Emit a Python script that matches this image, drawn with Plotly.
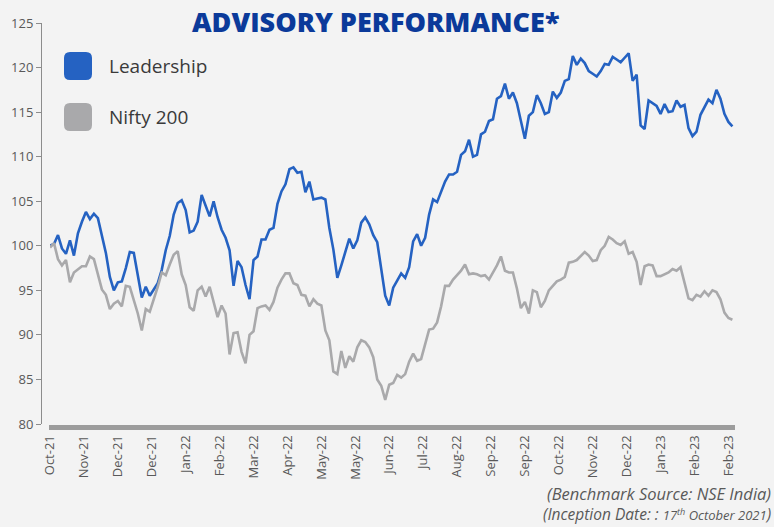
import plotly.graph_objects as go

# ---------------- data ----------------
series_names = ["Leadership", "Nifty 200"]

# trading-day index of each sample (every 2nd trading day since inception)
trading_day = list(range(0, 344, 2))

leadership = [
    100.0, 100.2, 101.2, 99.7, 99.1, 100.6, 98.9, 101.4, 102.7, 103.8,
    103.0, 103.6, 103.1, 101.3, 99.2, 96.5, 95.0, 95.9, 96.0, 97.5,
    99.3, 99.2, 96.5, 94.2, 95.4, 94.4, 95.1, 95.8, 97.3, 99.5,
    101.1, 103.5, 104.8, 105.1, 104.0, 101.5, 101.7, 102.7, 105.7, 104.6,
    103.3, 105.0, 103.2, 101.8, 100.9, 99.5, 95.5, 98.3, 97.6, 95.6,
    94.0, 98.4, 98.8, 100.7, 100.7, 101.8, 102.0, 104.7, 106.1, 106.9,
    108.6, 108.8, 108.2, 108.3, 106.0, 107.2, 105.2, 105.3, 105.4, 105.2,
    102.0, 99.6, 96.4, 97.8, 99.3, 100.8, 99.7, 100.6, 102.6, 103.2,
    102.4, 101.2, 100.4, 97.5, 94.4, 93.3, 95.3, 96.1, 96.9, 96.4,
    97.6, 100.5, 101.3, 100.0, 100.9, 103.5, 105.2, 104.9, 106.1, 107.2,
    108.0, 108.0, 108.3, 110.2, 110.6, 111.9, 110.0, 110.2, 112.5, 112.8,
    114.0, 114.2, 116.5, 116.8, 118.2, 116.5, 117.2, 116.0, 114.0, 112.0,
    114.6, 115.0, 116.9, 116.0, 114.8, 115.0, 117.3, 116.6, 117.2, 118.5,
    118.7, 121.3, 120.3, 121.0, 120.5, 119.6, 119.3, 119.0, 119.6, 120.4,
    120.3, 121.2, 120.9, 120.6, 121.1, 121.6, 118.5, 119.2, 113.5, 113.1,
    116.3, 116.0, 115.7, 114.8, 115.9, 115.0, 115.1, 116.3, 115.6, 115.8,
    113.2, 112.3, 112.8, 114.7, 115.6, 116.4, 116.0, 117.5, 116.5, 114.8,
    113.9, 113.4,
]

nifty200 = [
    99.8, 100.3, 98.5, 97.8, 98.4, 95.9, 97.0, 97.3, 97.7, 97.7,
    98.8, 98.5, 96.9, 95.1, 94.5, 92.9, 93.5, 93.8, 93.2, 95.5,
    95.4, 94.0, 92.4, 90.5, 92.9, 92.6, 93.9, 95.4, 97.0, 96.7,
    97.9, 99.0, 99.4, 96.8, 95.6, 93.1, 92.7, 95.0, 95.4, 94.3,
    95.4, 93.7, 92.0, 93.3, 92.4, 87.8, 90.2, 90.3, 88.1, 86.8,
    90.0, 90.4, 93.0, 93.2, 93.3, 92.8, 93.7, 95.3, 96.2, 96.9,
    96.9, 95.8, 95.6, 94.5, 94.4, 93.2, 94.0, 93.5, 93.3, 90.5,
    89.4, 85.9, 85.6, 88.2, 86.3, 87.6, 87.0, 88.6, 89.4, 89.2,
    88.6, 87.5, 85.0, 84.3, 82.7, 84.4, 84.6, 85.5, 85.2, 85.6,
    87.0, 87.9, 87.1, 87.3, 88.9, 90.6, 90.7, 91.4, 93.2, 95.5,
    95.5, 96.2, 96.7, 97.2, 97.9, 96.8, 96.9, 96.8, 96.6, 96.7,
    96.2, 97.0, 97.8, 98.8, 97.2, 97.0, 97.0, 95.2, 93.0, 93.7,
    92.4, 95.0, 94.8, 93.1, 93.8, 95.0, 95.5, 96.0, 96.2, 96.5,
    98.1, 98.2, 98.4, 98.8, 99.3, 98.9, 98.3, 98.4, 99.5, 100.0,
    101.0, 100.7, 100.3, 100.1, 100.5, 99.1, 99.3, 98.2, 95.6, 97.7,
    97.9, 97.8, 96.6, 96.6, 96.8, 97.0, 97.4, 97.2, 97.6, 95.9,
    94.1, 93.9, 94.5, 94.3, 94.9, 94.4, 95.0, 94.8, 94.0, 92.5,
    91.9, 91.7,
]

tick_days = [0, 17, 34, 51, 68, 85, 102, 119, 136, 153, 170, 187, 204, 221,
             238, 255, 272, 289, 306, 323, 340]
tick_labels = ["Oct-21", "Nov-21", "Dec-21", "Dec-21", "Jan-22", "Feb-22",
               "Mar-22", "Apr-22", "May-22", "May-22", "Jun-22", "Jul-22",
               "Aug-22", "Sep-22", "Sep-22", "Oct-22", "Nov-22", "Dec-22",
               "Jan-23", "Feb-23", "Feb-23"]
y_ticks = [80, 85, 90, 95, 100, 105, 110, 115, 120, 125]

# ---------------- styling ----------------
BG = "#f3f3f3"
BLUE = "#2562c2"
GREY = "#a9a9ab"
AXIS = "#8c8c8c"
TXT = "#595959"

W, H = 774, 527
ML, MR, MT, MB = 41, 38, 23, 103
PW = W - ML - MR
PH = H - MT - MB
PB = H - MB


def X(p):
    return (p - ML) / PW


def Y(p):
    return (PB - p) / PH


def rounded_box(px0, py0, px1, py1, rad):
    return (f"M {X(px0 + rad)},{Y(py0)} L {X(px1 - rad)},{Y(py0)} "
            f"Q {X(px1)},{Y(py0)} {X(px1)},{Y(py0 + rad)} "
            f"L {X(px1)},{Y(py1 - rad)} Q {X(px1)},{Y(py1)} {X(px1 - rad)},{Y(py1)} "
            f"L {X(px0 + rad)},{Y(py1)} Q {X(px0)},{Y(py1)} {X(px0)},{Y(py1 - rad)} "
            f"L {X(px0)},{Y(py0 + rad)} Q {X(px0)},{Y(py0)} {X(px0 + rad)},{Y(py0)} Z")


fig = go.Figure()
fig.add_trace(go.Scatter(x=trading_day, y=leadership, mode="lines",
                         name=series_names[0],
                         line=dict(color=BLUE, width=2.6), showlegend=False))
fig.add_trace(go.Scatter(x=trading_day, y=nifty200, mode="lines",
                         name=series_names[1],
                         line=dict(color=GREY, width=2.6), showlegend=False))

shapes = [
    dict(type="path", xref="paper", yref="paper",
         path=rounded_box(64, 52, 92, 80, 6), fillcolor=BLUE, line=dict(width=0)),
    dict(type="path", xref="paper", yref="paper",
         path=rounded_box(64, 103, 92, 131, 6), fillcolor=GREY, line=dict(width=0)),
]

annotations = [
    dict(text="ADVISORY PERFORMANCE*", x=X(375), y=Y(21), xref="paper",
         yref="paper", showarrow=False, xanchor="center", yanchor="middle",
         font=dict(family="Open Sans", size=27, color="#0b3a9a", weight=800)),
    dict(text=series_names[0], x=X(107), y=Y(66), xref="paper", yref="paper",
         showarrow=False, xanchor="left", yanchor="middle",
         font=dict(family="Open Sans", size=19, color="#3a3a3a")),
    dict(text=series_names[1], x=X(107), y=Y(117), xref="paper", yref="paper",
         showarrow=False, xanchor="left", yanchor="middle",
         font=dict(family="Open Sans", size=19, color="#3a3a3a")),
    dict(text="<i>(Benchmark Source: NSE India)</i>", x=X(773), y=Y(493),
         xref="paper", yref="paper", showarrow=False, xanchor="right",
         yanchor="middle", font=dict(family="Open Sans", size=16.5, color=TXT)),
    dict(text="<i>(Inception Date: : <span style='font-size:13px'>17<sup>th</sup> "
              "October 2021</span>)</i>", x=X(773), y=Y(526.5),
         xref="paper", yref="paper", showarrow=False, xanchor="right",
         yanchor="bottom", font=dict(family="Open Sans", size=15.5, color=TXT)),
]

fig.update_layout(
    width=W, height=H,
    margin=dict(l=ML, r=MR, t=MT, b=MB, pad=0),
    paper_bgcolor=BG, plot_bgcolor=BG,
    shapes=shapes, annotations=annotations,
    xaxis=dict(
        domain=[X(50), 1], range=[0, 343.8], anchor="y",
        tickmode="array", tickvals=tick_days, ticktext=tick_labels,
        tickangle=-90, ticks="outside", ticklen=5, tickwidth=2, tickcolor="#9c9c9c",
        minor=dict(ticks="outside", ticklen=5, tickwidth=1.5, tickcolor="#9c9c9c",
                   tick0=0, dtick=1),
        showline=False, showgrid=False, zeroline=False,
        tickfont=dict(family="Open Sans", size=13, color=TXT),
    ),
    yaxis=dict(
        range=[80, 125], tickvals=y_ticks, anchor="free", position=0,
        showline=True, linecolor=AXIS, linewidth=1,
        ticks="outside", ticklen=5, tickcolor=AXIS,
        showgrid=False, zeroline=False,
        tickfont=dict(family="Open Sans", size=13, color=TXT),
    ),
)

fig.write_html("out.html",
               config={"displayModeBar": False},
               post_script="document.body.style.margin='0';"
                           "document.body.style.background='" + BG + "';")
